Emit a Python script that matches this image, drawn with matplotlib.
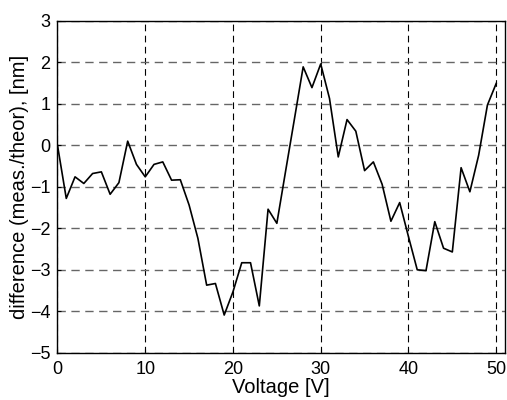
import matplotlib.pyplot as plt

plt.rcParams['font.family'] = ['Liberation Sans', 'DejaVu Sans']

# Voltage steps and measured-minus-theoretical difference in nm
voltage = list(range(0, 51))
difference = [
    0.0, -1.28, -0.76, -0.92, -0.68, -0.64, -1.18, -0.90, 0.10, -0.46,
    -0.76, -0.46, -0.40, -0.84, -0.83, -1.44, -2.24, -3.37, -3.33, -4.09,
    -3.53, -2.83, -2.83, -3.87, -1.54, -1.88, -0.62, 0.63, 1.89, 1.39,
    1.96, 1.13, -0.28, 0.62, 0.34, -0.61, -0.40, -0.94, -1.83, -1.38,
    -2.20, -3.00, -3.02, -1.84, -2.48, -2.57, -0.54, -1.12, -0.24, 0.97,
    1.49,
]

fig = plt.figure(figsize=(5.07, 4.0), dpi=100)
ax = fig.add_axes([0.1134, 0.118, 0.8826, 0.830])

ax.plot(voltage, difference, color='black', linewidth=1.2)

ax.set_xlim(0, 51)
ax.set_ylim(-5, 3)
ax.set_xticks(range(0, 51, 10))
ax.set_yticks(range(-5, 4))

ax.xaxis.grid(True, linestyle=(0, (6, 4)), color='black', linewidth=0.8)
ax.yaxis.grid(True, linestyle=(0, (6, 4)), color='#666666', linewidth=1.0)

ax.tick_params(direction='in', length=3, labelsize=13)
ax.tick_params(axis='x', pad=6)
ax.tick_params(axis='y', pad=5)
for s in ax.spines.values():
    s.set_linewidth(1.0)

ax.set_xlabel('Voltage [V]', fontsize=14.5, labelpad=0)
ax.set_ylabel('difference (meas./theor), [nm]', fontsize=14.5, labelpad=1)

fig.savefig('out.png', dpi=100)
